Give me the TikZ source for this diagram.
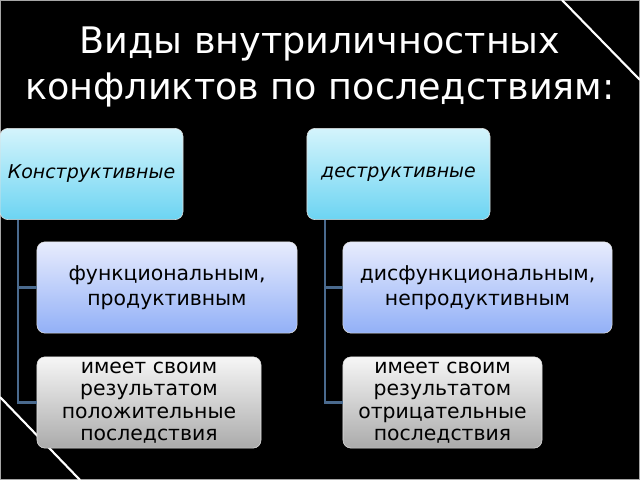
\documentclass[tikz,border=0pt]{standalone}
\usepackage{fontspec}
\setmainfont{DejaVu Sans}
\usetikzlibrary{positioning}

\definecolor{cyantop}{HTML}{D4F4FC}
\definecolor{cyanbot}{HTML}{6CD4F2}
\definecolor{bluetop}{HTML}{E8ECFD}
\definecolor{bluebot}{HTML}{92B0F7}
\definecolor{greytop}{HTML}{F6F6F6}
\definecolor{greybot}{HTML}{ABABAB}
\definecolor{linkcol}{HTML}{4A6A8E}

\tikzset{
  box/.style={rounded corners=0.2cm, inner sep=2pt, align=center, text=black,
    minimum height=2.28cm, draw=white!75!gray, line width=0.4pt},
  headbox/.style={box, top color=cyantop, bottom color=cyanbot,
    minimum width=4.575cm, font=\itshape\fontsize{13.5}{15}\selectfont},
  kindbox/.style={box, top color=bluetop, bottom color=bluebot,
    font=\fontsize{14.5}{17.5}\selectfont},
  resbox/.style={box, top color=greytop, bottom color=greybot,
    font=\fontsize{14.5}{16}\selectfont},
  link/.style={draw=linkcol, line width=1.8pt},
}

\begin{document}
\begin{tikzpicture}[x=0.025cm, y=-0.025cm]
    % slide background and frame
    \fill[black] (0,0) rectangle (640,480);
    \useasboundingbox (0,0) rectangle (640,480);
    \draw[gray!70, line width=1.2pt] (0,0) rectangle (640,480);
    \draw[white, line width=1.5pt] (562,0) -- (640,80);
    \draw[white, line width=1.5pt] (0,397) -- (80,480);

    \node (title) [align=center, text=white, font=\fontsize{26}{33}\selectfont]
        at (320,67) {Виды внутриличностных\\конфликтов по последствиям:};

    % left column
    \node (kon) [headbox] at (91.5,174) {Конструктивные};
    \node (fun) [kindbox, minimum width=6.5cm] at (167,287.5)
        {функциональным,\\продуктивным};
    \node (pos) [resbox, minimum width=5.6cm] at (149,402.5)
        {имеет своим\\результатом\\положительные\\последствия};
    \coordinate (kt) at (18,220);
    \draw[link] (kt) |- (fun.west);
    \draw[link] (kt) |- (pos.west);

    % right column
    \node (des) [headbox] at (398.5,174) {деструктивные};
    \node (dis) [kindbox, minimum width=6.725cm] at (477.5,287.5)
        {дисфункциональным,\\непродуктивным};
    \node (otr) [resbox, minimum width=4.975cm] at (442.5,402.5)
        {имеет своим\\результатом\\отрицательные\\последствия};
    \coordinate (dt) at (325,220);
    \draw[link] (dt) |- (dis.west);
    \draw[link] (dt) |- (otr.west);
\end{tikzpicture}
\end{document}
